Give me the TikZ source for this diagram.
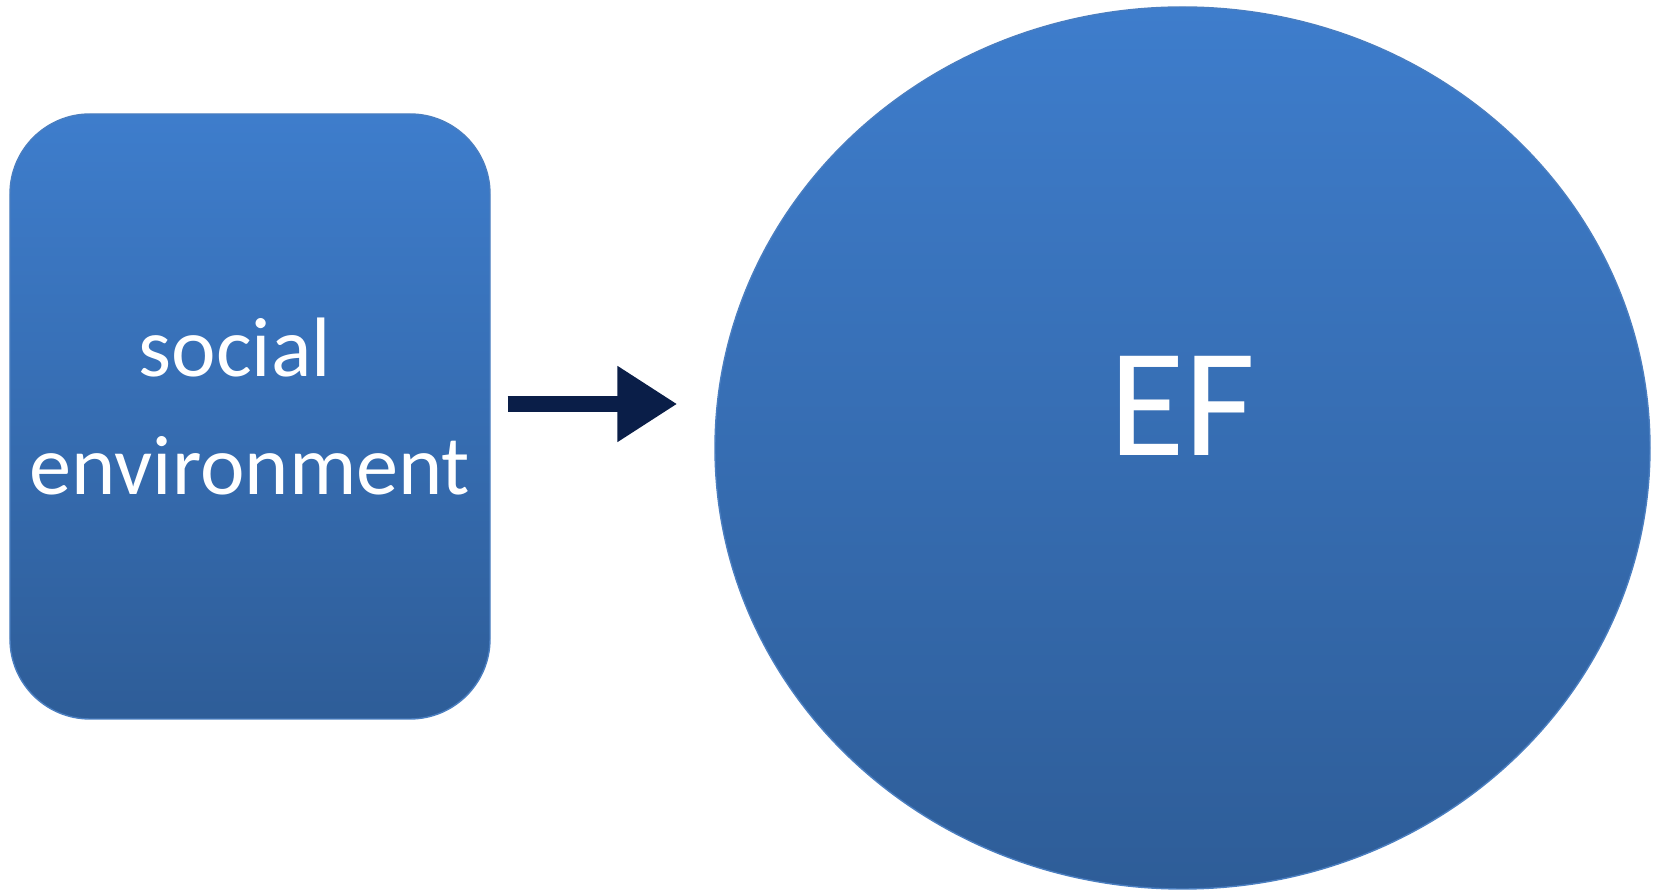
\documentclass[tikz,border=0pt]{standalone}
\usepackage{fontspec}
\setmainfont{Carlito}
\usepackage{tikz}
\usetikzlibrary{arrows.meta,positioning,calc,shapes.geometric}
\definecolor{bleuHaut}{RGB}{62,125,204}
\definecolor{bleuBas}{RGB}{46,93,152}
\definecolor{bleuBord}{RGB}{74,126,192}
\definecolor{marine}{RGB}{10,30,72}

\begin{document}
\begin{tikzpicture}[xscale=1,yscale=1]
\tikzstyle{fleche}=[-{Triangle[length=0.6cm,width=0.72cm]},line width=0.16cm,color=marine]
\tikzstyle{boite}=[rounded corners=0.8cm,top color=bleuHaut,bottom color=bleuBas,draw=bleuBord,
  minimum width=4.8cm,minimum height=6.05cm,inner sep=0pt]
\tikzstyle{bulle}=[ellipse,top color=bleuHaut,bottom color=bleuBas,draw=bleuBord,
  minimum width=9.35cm,minimum height=8.82cm,inner sep=0pt]
\tikzstyle{texte}=[text=white,align=center,font=\fontsize{24pt}{33.5pt}\selectfont]
\tikzstyle{grandtexte}=[text=white,font=\fontsize{44pt}{52pt}\selectfont]
\useasboundingbox (0,0) rectangle (16.53,-8.90);
\node[boite] (social) at (2.50,-4.165) {};
\node[texte] (socialtexte) at ([yshift=0.1cm]social.center) {social\hspace*{0.36em}\\environment};
\node[bulle] (EF) at (11.825,-4.48) {};
\node[grandtexte] (EFtexte) at ([yshift=0.42cm]EF.center) {EF};
\draw[fleche,shorten <=0.17cm,shorten >=0.37cm] ([yshift=0.125cm]social.east) -- ([yshift=0.125cm]social.east -| EF.west);
\end{tikzpicture}
\end{document}
